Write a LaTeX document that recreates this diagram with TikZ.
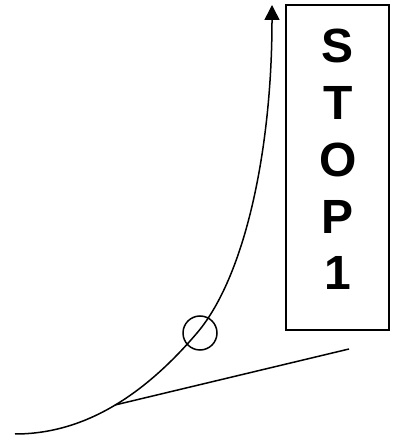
\documentclass[tikz,border=0pt]{standalone}
\usepackage{fontspec}
\setmainfont{Liberation Sans}
\usetikzlibrary{arrows.meta}
\begin{document}
\begin{tikzpicture}[x=1pt,y=1pt,
  lw/.style={line width=1.5pt},
  letter/.style={anchor=base,inner sep=0pt,font=\fontsize{48}{57}\selectfont\bfseries}]
\useasboundingbox (0,0) rectangle (393,443);
% box
\node[draw,lw,minimum width=103pt,minimum height=325pt,inner sep=0pt] (box) at (337.5,275.5) {};
\node[letter] (l1) at (338,380) {S};
\node[letter] (l2) at (338,323.25) {T};
\node[letter] (l3) at (338,266.5) {O};
\node[letter] (l4) at (338,209.75) {P};
\node[letter] (l5) at (338,153) {1};
% curve
\coordinate (c0) at (15,9);
\coordinate (cm) at (197,110);
\coordinate (ct) at (272,438);
\coordinate (tp) at (115,38);
\coordinate (te) at (349,94);
\draw[lw,-{Triangle[width=15pt,length=15pt]}] (c0) .. controls (80,9) and (140,43) .. (cm)
   .. controls (245,166.4) and (272,293) .. (ct);
% circle
\node[draw,lw,circle,minimum size=34pt,inner sep=0pt] (circ) at (200,110) {};
% tangent line
\draw[lw] (tp) -- (te);
\end{tikzpicture}
\end{document}
